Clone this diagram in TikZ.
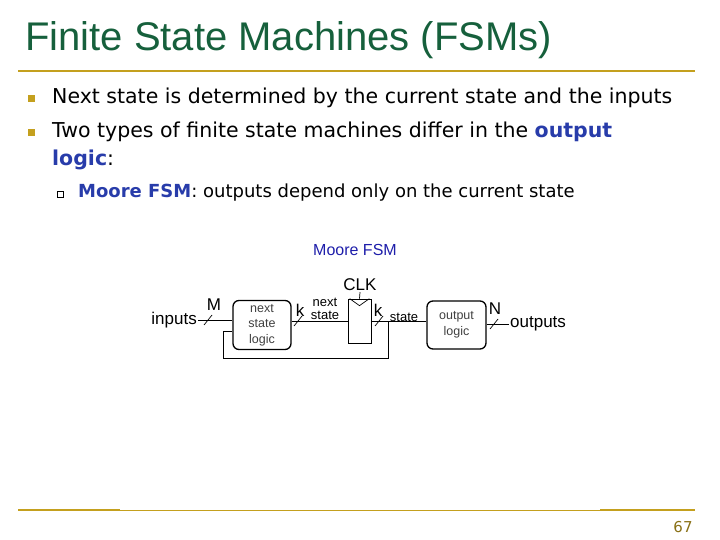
\documentclass[tikz,border=0pt]{standalone}
\usepackage{fontspec}
\setmainfont{DejaVu Sans}
\newfontfamily\arial{Liberation Sans}
\usetikzlibrary{calc}
\definecolor{ttl}{RGB}{22,96,60}
\definecolor{gold}{RGB}{196,160,30}
\definecolor{kw}{RGB}{40,60,170}
\definecolor{mblue}{RGB}{30,30,170}
\begin{document}
\begin{tikzpicture}[x=1pt,y=-1pt,
 blk/.style={draw,line width=1.3pt,rounded corners=6pt,minimum width=58pt,minimum height=49pt,align=center,font=\arial\fontsize{12.5}{15.5}\selectfont,inner sep=0pt,text=black!75},
 lbl/.style={font=\arial\fontsize{17}{18}\selectfont,inner sep=1pt},
 slbl/.style={font=\arial\fontsize{13}{13.5}\selectfont,inner sep=1pt,align=center},
 bul/.style={fill=gold,minimum size=7pt,inner sep=0pt},
 txt/.style={anchor=west,font=\fontsize{20.5}{24}\selectfont,inner sep=0pt},
 wire/.style={line width=0.7pt}]
\useasboundingbox (0,0) rectangle (720,540);
\node[anchor=west,text=ttl,font=\arial\fontsize{40}{44}\selectfont,inner sep=0pt] (title) at (25,40) {Finite State Machines (FSMs)};
\draw[gold,line width=2pt] (18,71) -- (695,71);
\node[bul] (b1) at (31,99) {};
\node[bul] (b2) at (31,133) {};
\node[txt] (t1) at (52,98) {Next state is determined by the current state and the inputs};
\node[txt] (t2) at (52,132) {Two types of finite state machines differ in the \textcolor{kw}{\textbf{output}}};
\node[txt] (t3) at (52,160) {\textcolor{kw}{\textbf{logic}}:};
\node[draw,minimum size=6pt,inner sep=0pt] (b3) at (60,194) {};
\node[anchor=west,font=\fontsize{18}{20}\selectfont,inner sep=0pt] (t4) at (78,193) {\textcolor{kw}{\textbf{Moore FSM}}: outputs depend only on the current state};
\node[text=mblue,font=\arial\fontsize{16}{17}\selectfont] (mt) at (355,250) {Moore FSM};
% blocks
\node[blk] (nsl) at (262,325) {next\\state\\logic};
\node[draw,wire,minimum width=23pt,minimum height=44pt,inner sep=0pt] (reg) at (359.5,321) {};
\node[blk,minimum width=59pt,minimum height=48pt] (ol) at (456.5,325) {output\\logic};
\draw[wire] ($(reg.north west)+(2,0)$) -- ($(reg.north)+(0,7)$) -- ($(reg.north east)+(-2,0)$);
\node[lbl] (clk) at (360,285) {CLK};
\draw[wire] (clk.south) -- (reg.north);
\node[lbl,anchor=east] (in) at (198,320) {inputs};
\node[lbl,anchor=west] (out) at (509,324) {outputs};
\draw[wire] (in.east) -- (in.east -| nsl.west);
\draw[wire] (nsl.east |- reg) -- (reg.west);
\draw[wire] (reg.east) -- (ol.west |- reg);
\draw[wire] (ol.east |- out) -- (out.west);
\coordinate (fb) at (388,321);
\draw[wire] (fb) -- (388,358) -- (223,358) -- (223,331) -- (nsl.west |- 0,331);
% bus marks
\foreach \x/\y in {208/320, 298/321, 379/321, 494/324}
  \draw[wire] (\x-4,\y+5) -- (\x+4,\y-5);
\node[lbl] (m) at (214,305) {M};
\node[lbl] (k1) at (300,310) {k};
\node[lbl] (k2) at (378,310) {k};
\node[lbl] (nN) at (495,309) {N};
\node[slbl] (ns) at (325,309) {next\\state};
\node[slbl] (st) at (404,317) {state};
% footer
\draw[gold,line width=2pt] (18,510) -- (120,510);
\draw[gold,line width=0.6pt] (120,510) -- (600,510);
\draw[gold,line width=2pt] (600,510) -- (695,510);
\node[text=gold!70!black,font=\fontsize{15}{16}\selectfont] (pg) at (683,527) {67};
\end{tikzpicture}
\end{document}
